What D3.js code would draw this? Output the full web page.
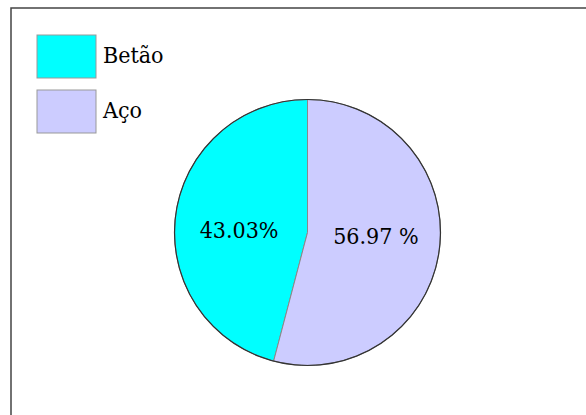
<!DOCTYPE html>
<html lang="en">
<head>
    <meta charset="UTF-8">
    <title>Pie Chart</title>
    <script src="https://cdn.jsdelivr.net/npm/d3@7"></script>
    <style>
        body { margin: 0; background: white; }
    </style>
</head>
<body>
    <div id="chart-space"></div>

    <script>
        // data
        var categories = ["Betão", "Aço"];
        var sliceValues = [45.9, 54.1];          // as drawn in the picture
        var sliceLabels = ["43.03%", "56.97 %"]; // label text printed on the slices
        var colors = ["#00ffff", "#ccccff"];

        var width = 586;
        var height = 415;
        var cx = 307.5, cy = 232.5, radius = 133;
        var serif = "'DejaVu Serif Condensed', 'DejaVu Serif', serif";

        var svg = d3.select("#chart-space")
            .append("svg")
            .attr("width", width)
            .attr("height", height);

        // frame (only top and left edges are visible)
        svg.append("rect")
            .attr("x", 11)
            .attr("y", 8)
            .attr("width", 700)
            .attr("height", 600)
            .attr("fill", "none")
            .attr("stroke", "#444")
            .attr("stroke-width", 1.5);

        var total = d3.sum(sliceValues);
        var start = -2 * Math.PI * sliceValues[0] / total;

        var pie = d3.pie()
            .sort(null)
            .value(function(d) { return d; })
            .startAngle(start)
            .endAngle(start + 2 * Math.PI);

        var arcs = pie(sliceValues);

        var arc = d3.arc().innerRadius(0).outerRadius(radius);
        var labelArc = d3.arc().innerRadius(69).outerRadius(69);

        var g = svg.append("g")
            .attr("transform", "translate(" + cx + "," + cy + ")");

        g.selectAll("path.slice")
            .data(arcs)
            .join("path")
            .attr("class", "slice")
            .attr("d", arc)
            .attr("fill", function(d, i) { return colors[i]; })
            .attr("stroke", "#888")
            .attr("stroke-width", 1);

        // darker outer rim
        g.append("circle")
            .attr("r", radius)
            .attr("fill", "none")
            .attr("stroke", "#333")
            .attr("stroke-width", 1.2);

        g.selectAll("text.pct")
            .data(arcs)
            .join("text")
            .attr("class", "pct")
            .attr("x", function(d) { return labelArc.centroid(d)[0]; })
            .attr("y", function(d) { return labelArc.centroid(d)[1] * 0.35 + 8.5; })
            .attr("text-anchor", "middle")
            .style("font-family", serif)
            .style("font-stretch", "condensed")
            .style("font-size", "23px")
            .style("fill", "#000")
            .text(function(d, i) { return sliceLabels[i]; });

        // legend
        var legend = svg.append("g");
        var items = legend.selectAll("g")
            .data(categories)
            .join("g")
            .attr("transform", function(d, i) { return "translate(37," + (35 + i * 55) + ")"; });

        items.append("rect")
            .attr("width", 59)
            .attr("height", 43)
            .attr("fill", function(d, i) { return colors[i]; })
            .attr("stroke", "#999")
            .attr("stroke-width", 1);

        items.append("text")
            .attr("x", 66)
            .attr("y", 28)
            .style("font-family", serif)
            .style("font-stretch", "condensed")
            .style("font-size", "23px")
            .style("fill", "#000")
            .text(function(d) { return d; });
    </script>
</body>
</html>
